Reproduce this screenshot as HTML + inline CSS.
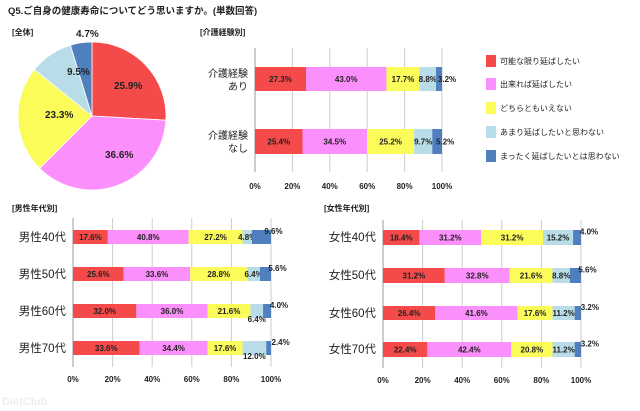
<!DOCTYPE html>
<html><head><meta charset="utf-8"><style>
html,body{margin:0;background:#fff;width:640px;height:411px;overflow:hidden;}
svg{display:block;font-family:"Liberation Sans","Noto Sans CJK JP",sans-serif;}
</style></head><body>
<svg id="s" width="640" height="411" viewBox="0 0 640 411" xmlns="http://www.w3.org/2000/svg">
<rect width="640" height="411" fill="#fff"/>
<text x="8" y="14" font-size="9.5" font-weight="bold" fill="#222">Q5.ご自身の健康寿命についてどう思いますか。(単数回答)</text>
<text x="12" y="35" font-size="8" font-weight="bold" fill="#222">[全体]</text>
<text x="200" y="35" font-size="8" font-weight="bold" fill="#222">[介護経験別]</text>
<text x="12" y="211" font-size="8" font-weight="bold" fill="#222">[男性年代別]</text>
<text x="324" y="211" font-size="8" font-weight="bold" fill="#222">[女性年代別]</text>
<text x="2" y="405" font-size="11" font-weight="bold" fill="#eee">DietClub</text>
</svg>
<script>
var s=document.getElementById('s'),NS='http://www.w3.org/2000/svg';
function el(t,a,txt){var e=document.createElementNS(NS,t);for(var k in a)e.setAttribute(k,a[k]);if(txt!=null)e.textContent=txt;s.appendChild(e);return e;}
var C=['#f44a4a','#fb8ffb','#fbfb5a','#b9dde8','#4f7fbd'];
var cx=92,cy=116,r=74,vals=[25.9,36.6,23.3,9.5,4.7],a0=-Math.PI/2;
var lp=[[114,89],[105,158],[45,118],[67,75],[76,37]];
vals.forEach(function(v,i){var a1=a0+v/100*2*Math.PI;
var x0=cx+r*Math.cos(a0),y0=cy+r*Math.sin(a0),x1=cx+r*Math.cos(a1),y1=cy+r*Math.sin(a1);
el('path',{d:'M'+cx+','+cy+'L'+x0+','+y0+'A'+r+','+r+' 0 '+(v>50?1:0)+' 1 '+x1+','+y1+'Z',fill:C[i],stroke:'#fff','stroke-width':0.8});a0=a1;});
vals.forEach(function(v,i){el('text',{x:lp[i][0],y:lp[i][1],'font-size':10,'font-weight':'bold',fill:'#222'},v.toFixed(1)+'%');});
function chart(x0,x1,top,bot,rows,labX,fs,ty){
 for(var k=0;k<=5;k++){var x=x0+(x1-x0)*k/5;
  if(k>0)el('line',{x1:x,y1:top,x2:x,y2:bot,stroke:'#ccc','stroke-width':1});
  el('text',{x:x,y:ty,'font-size':8,'font-weight':'bold','text-anchor':'middle',fill:'#222'},(k*20)+'%');}
 el('line',{x1:x0,y1:top,x2:x0,y2:bot,stroke:'#999'});
 rows.forEach(function(rw){var x=x0,d=rw.v,w=x1-x0;
  d.forEach(function(v,i){var bw=w*v/100;el('rect',{x:x,y:rw.y,width:bw,height:rw.h,fill:C[i]});
   var tx=x+bw/2,ty2=rw.y+rw.h/2+3;
   if(rw.o&&rw.o[i]){tx+=rw.o[i][0];ty2+=rw.o[i][1];}
   el('text',{x:tx,y:ty2,'font-size':8,'font-weight':'bold','text-anchor':'middle',fill:'#222'},v.toFixed(1)+'%');x+=bw;});
  rw.l.forEach(function(t,j){el('text',{x:labX,y:rw.ly+j*13,'font-size':fs,'text-anchor':'end',fill:'#222'},t);});});
}
chart(255,442,48,172,[
 {y:67,h:24,v:[27.3,43.0,17.7,8.8,3.2],o:{4:[8,0]},l:['介護経験','あり'],ly:77},
 {y:129,h:25,v:[25.4,34.5,25.2,9.7,5.2],o:{4:[8,0]},l:['介護経験','なし'],ly:139}],248,10,189);
chart(73,271,218,367,[
 {y:230,h:14,v:[17.6,40.8,27.2,4.8,9.6],o:{4:[12,-6]},l:['男性40代'],ly:241},
 {y:267,h:14,v:[25.6,33.6,28.8,6.4,5.6],o:{4:[12,-6]},l:['男性50代'],ly:278},
 {y:304,h:14,v:[32.0,36.0,21.6,6.4,4.0],o:{3:[0,8],4:[12,-6]},l:['男性60代'],ly:315},
 {y:341,h:14,v:[33.6,34.4,17.6,12.0,2.4],o:{3:[0,8],4:[12,-6]},l:['男性70代'],ly:352}],66,11.5,382);
chart(383,581,220,368,[
 {y:230,h:15,v:[18.4,31.2,31.2,15.2,4.0],o:{4:[12,-6]},l:['女性40代'],ly:241},
 {y:268,h:15,v:[31.2,32.8,21.6,8.8,5.6],o:{4:[12,-6]},l:['女性50代'],ly:279},
 {y:306,h:14,v:[26.4,41.6,17.6,11.2,3.2],o:{4:[12,-6]},l:['女性60代'],ly:317},
 {y:342,h:15,v:[22.4,42.4,20.8,11.2,3.2],o:{4:[12,-6]},l:['女性70代'],ly:353}],376,11.5,383);
var L=['可能な限り延ばしたい','出来れば延ばしたい','どちらともいえない','あまり延ばしたいと思わない','まったく延ばしたいとは思わない'];
L.forEach(function(t,i){var y=[55,78,102,126,150][i];el('rect',{x:486,y:y,width:10,height:12,fill:C[i]});
 el('text',{x:500,y:y+9,'font-size':8,fill:'#222'},t);});
</script>
</body></html>
